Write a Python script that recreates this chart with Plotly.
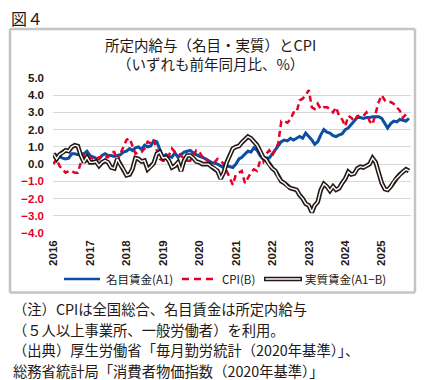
import plotly.graph_objects as go
import pandas as pd

# ---------------- data ----------------
years = ["2016", "2017", "2018", "2019", "2020", "2021", "2022", "2023", "2024", "2025"]

nominal_wage = [
    0.6, 0.5, 0.45, 0.35, 0.3, 0.35, 0.6, 0.6, 0.55, 0.6, 0.6, 0.75,      # 2016
    0.5, 0.4, 0.35, 0.3, 0.5, 0.6, 0.5, 0.5, 0.45, 0.5, 0.55, 0.7,        # 2017
    0.75, 0.9, 0.8, 0.95, 1.0, 0.85, 1.1, 1.0, 1.05, 1.35, 1.3, 0.85,     # 2018
    0.4, 0.55, 0.45, 0.4, 0.65, 0.4, 0.55, 0.7, 0.75, 0.8, 0.65, 0.55,    # 2019
    0.45, 0.4, 0.3, 0.2, 0.1, 0.05, 0.0, -0.1, -0.2, -0.1, -0.15, -0.2,   # 2020
    0.0, 0.3, 0.4, 0.55, 0.75, 0.7, 0.95, 0.8, 0.5, 0.3, 0.35, 0.35,      # 2021
    0.6, 0.85, 1.1, 1.3, 1.4, 1.35, 1.5, 1.4, 1.5, 1.6, 1.5, 1.8,         # 2022
    1.6, 1.4, 1.15, 1.3, 1.7, 2.0, 1.85, 1.8, 1.65, 1.6, 1.7, 1.75,       # 2023
    2.0, 2.1, 2.3, 2.5, 2.7, 2.7, 2.65, 2.7, 2.7, 2.75, 2.75, 2.75,       # 2024
    2.65, 2.35, 2.1, 2.35, 2.5, 2.45, 2.6, 2.55, 2.5, 2.65,               # 2025
]

cpi = [
    0.0, 0.3, -0.1, -0.3, -0.5, -0.4, -0.4, -0.5, -0.5, 0.1, 0.5, 0.3,    # 2016
    0.4, 0.3, 0.2, 0.4, 0.4, 0.4, 0.4, 0.7, 0.7, 0.2, 0.6, 1.0,           # 2017
    1.4, 1.5, 1.1, 0.6, 0.7, 0.7, 0.9, 1.3, 1.2, 1.4, 0.8, 0.3,           # 2018
    0.2, 0.2, 0.5, 0.9, 0.7, 0.7, 0.5, 0.3, 0.2, 0.2, 0.5, 0.8,           # 2019
    0.7, 0.4, 0.4, 0.1, 0.1, 0.1, 0.3, 0.2, 0.0, -0.4, -0.9, -1.2,        # 2020
    -0.6, -0.5, -0.4, -1.1, -0.8, -0.5, -0.3, -0.4, 0.2, 0.1, 0.6, 0.8,   # 2021
    0.5, 0.9, 1.2, 2.5, 2.5, 2.4, 2.6, 3.0, 3.0, 3.7, 3.8, 4.0,           # 2022
    4.3, 3.3, 3.2, 3.5, 3.2, 3.3, 3.3, 3.2, 3.0, 3.3, 2.8, 2.6,           # 2023
    2.2, 2.8, 2.7, 2.5, 2.8, 2.8, 2.8, 3.0, 2.5, 2.3, 2.9, 3.6,           # 2024
    4.0, 3.7, 3.6, 3.6, 3.5, 3.3, 3.1, 2.7, 2.9, 3.0,                     # 2025
]

real_wage = [
    0.6, 0.3, 0.55, 0.65, 0.8, 0.75, 1.0, 1.1, 1.05, 0.5, 0.1, 0.4,       # 2016
    0.1, 0.1, 0.15, -0.1, 0.1, 0.2, 0.1, -0.2, -0.25, 0.3, -0.05, -0.3,   # 2017
    -0.65, -0.6, -0.3, 0.35, 0.3, 0.15, 0.2, -0.3, -0.15, 0.05, 0.6, 0.7,  # 2018
    0.35, 0.4, 0.2, -0.2, -0.1, 0.1, -0.4, 0.2, 0.5, 0.5, 0.35, 0.15,     # 2019
    0.1, 0.0, 0.0, 0.0, -0.15, -0.25, -0.4, -0.85, -0.5, 0.1, 0.5, 0.9,   # 2020
    1.0, 1.05, 1.25, 1.45, 1.6, 1.5, 1.3, 1.1, 0.75, 0.4, 0.25, -0.05,    # 2021
    -0.25, -0.4, -0.75, -1.0, -1.1, -1.3, -1.4, -1.45, -1.5, -1.8, -2.0, -2.3,  # 2022
    -2.4, -2.8, -2.4, -2.2, -1.5, -1.15, -1.3, -1.55, -1.3, -1.5, -1.4, -1.1,  # 2023
    -0.85, -0.45, -0.6, -0.55, -0.25, -0.15, -0.2, -0.1, 0.0, 0.35, 0.1, -0.5,  # 2024
    -1.1, -1.45, -1.5, -1.3, -1.0, -0.8, -0.6, -0.45, -0.3, -0.4,         # 2025
]

y_ticks = [5.0, 4.0, 3.0, 2.0, 1.0, 0.0, -1.0, -2.0, -3.0, -4.0]
y_tick_labels = ["5.0", "4.0", "3.0", "2.0", "1.0", "0.0", "−1.0", "−2.0", "−3.0", "−4.0"]

series_names = ["名目賃金(A1)", "CPI(B)", "実質賃金(A1−B)"]

title_lines = ["所定内給与（名目・実質）とCPI", "（いずれも前年同月比、%）"]
note_lines = [
    "（注）CPIは全国総合、名目賃金は所定内給与",
    "（５人以上事業所、一般労働者）を利用。",
    "（出典）厚生労働省「毎月勤労統計（2020年基準）」、",
    "総務省統計局「消費者物価指数（2020年基準）」",
]
figure_label = "図４"

# ---------------- styling ----------------
BLUE = "#0b4ea2"
RED = "#e60026"
DARK = "#231815"
JP = "Noto Sans CJK JP"
NUM = "Liberation Sans"

months = pd.date_range("2016-01-01", periods=len(cpi), freq="MS")
year_ticks = [pd.Timestamp(f"{y}-01-01") for y in years]

W, H = 425, 380
L, R, T, B = 53, 411, 78.3, 232.7


def px(x):
    return (x - L) / (R - L)


def py(y):
    return (B - y) / (B - T)


fig = go.Figure()
fig.add_trace(go.Scatter(x=months, y=nominal_wage, mode="lines",
                         line=dict(color=BLUE, width=3), name=series_names[0],
                         showlegend=False))
fig.add_trace(go.Scatter(x=months, y=cpi, mode="lines",
                         line=dict(color=RED, width=2.5, dash="6px,4px"),
                         name=series_names[1], showlegend=False))
fig.add_trace(go.Scatter(x=months, y=real_wage, mode="lines",
                         line=dict(color=DARK, width=4.6), name=series_names[2],
                         showlegend=False))
fig.add_trace(go.Scatter(x=months, y=real_wage, mode="lines",
                         line=dict(color="white", width=1.4), showlegend=False,
                         hoverinfo="skip"))

ticktext = []
for v, lab in zip(y_ticks, y_tick_labels):
    if v < 0:
        ticktext.append(f'<span style="color:{RED}">{lab}</span>')
    else:
        ticktext.append(lab)

fig.update_layout(
    width=W, height=H,
    margin=dict(l=L, r=W - R, t=T, b=H - B, autoexpand=False),
    paper_bgcolor="white", plot_bgcolor="white",
    showlegend=False,
    xaxis=dict(
        range=[pd.Timestamp("2015-12-27"), pd.Timestamp("2025-10-21")],
        tickvals=year_ticks, ticktext=years, tickangle=-90,
        showgrid=False, zeroline=False, showline=False, ticks="",
        tickfont=dict(family=NUM, size=11.5, color=DARK, weight="bold"),
        ticklabelstandoff=4,
    ),
    yaxis=dict(
        range=[-4, 5], tickvals=y_ticks, ticktext=ticktext,
        showgrid=True, gridcolor="#d9d9d9", gridwidth=1,
        zeroline=False, showline=False, ticks="",
        tickfont=dict(family=NUM, size=11.5, color=DARK, weight="bold"),
        ticklabelstandoff=8,
    ),
)

shapes = []
# outer frame (four sides)
fx0, fx1, fy0, fy1 = px(10), px(415), py(292), py(29.5)
frame = dict(color="#c4c4c4", width=2.5)
for (a, b, c, d) in [(fx0, fy1, fx1, fy1), (fx0, fy0, fx1, fy0),
                     (fx0, fy0, fx0, fy1), (fx1, fy0, fx1, fy1)]:
    shapes.append(dict(type="line", xref="paper", yref="paper",
                       x0=a, y0=b, x1=c, y1=d, line=frame))

# manual legend
ly = py(278.5)
shapes.append(dict(type="line", xref="paper", yref="paper",
                   x0=px(64), x1=px(100), y0=ly, y1=ly,
                   line=dict(color=BLUE, width=2.5)))
shapes.append(dict(type="line", xref="paper", yref="paper",
                   x0=px(182), x1=px(213), y0=ly, y1=ly,
                   line=dict(color=RED, width=2.5, dash="7px,5px")))
shapes.append(dict(type="line", xref="paper", yref="paper",
                   x0=px(264), x1=px(302), y0=ly, y1=ly,
                   line=dict(color=DARK, width=4.6)))
shapes.append(dict(type="line", xref="paper", yref="paper",
                   x0=px(265.5), x1=px(300.5), y0=ly, y1=ly,
                   line=dict(color="white", width=1.4)))

annotations = []
for name, xl in zip(series_names, [104, 220, 303]):
    annotations.append(dict(xref="paper", yref="paper", x=px(xl), y=ly,
                            xanchor="left", yanchor="middle", showarrow=False,
                            text=name, font=dict(family=JP, size=11.5, color=DARK)))

# two-line chart title as one text block
annotations.append(dict(xref="paper", yref="paper", x=px(210.5), y=py(54.2),
                        xanchor="center", yanchor="middle", showarrow=False,
                        align="center",
                        text="<br>".join(title_lines),
                        font=dict(family=JP, size=14.5, color=DARK)))

annotations.append(dict(xref="paper", yref="paper", x=px(9), y=py(18.5),
                        xanchor="left", yanchor="middle", showarrow=False,
                        text=figure_label, font=dict(family=JP, size=16, color=DARK)))

for line, yy in zip(note_lines, [307.5, 328.8, 349.0, 369.6]):
    annotations.append(dict(xref="paper", yref="paper", x=px(11), y=py(yy),
                            xanchor="left", yanchor="middle", showarrow=False,
                            text=line, font=dict(family=JP, size=14.3, color=DARK)))

fig.update_layout(shapes=shapes, annotations=annotations)
fig.write_html("out.html", config={"displayModeBar": False},
               post_script="document.body.style.margin='0px';")
